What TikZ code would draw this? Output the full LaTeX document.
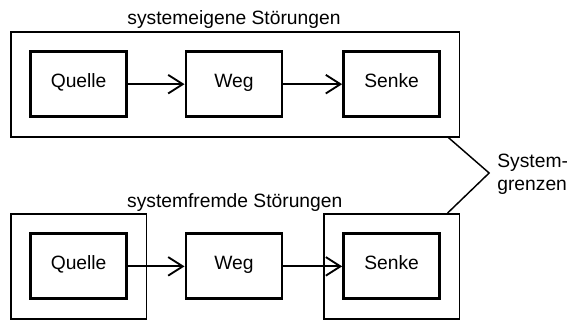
\documentclass[tikz,border=0pt]{standalone}
\usepackage{fontspec}
\newfontfamily\normschrift{Liberation Sans}
\usetikzlibrary{arrows.meta,positioning,calc,fit}
\tikzset{
  >={Straight Barb[length=11pt,width=14pt]},
  % Bloecke
  blk/.style={draw,line width=2.2pt,inner sep=0pt,minimum width=2.54cm,
              minimum height=1.72cm,text height=0.73em,text depth=0.21em,
              font=\normschrift\fontsize{14.5}{17.25}\selectfont},
  hull/.style={draw,line width=1.4pt,inner sep=13.9pt},
  pf/.style={->,line width=1.4pt},
  % Beschriftung
  titel/.style={font=\normschrift\fontsize{14.5}{17.25}\selectfont,inner sep=0pt,anchor=base},
  grenz/.style={draw,line width=1.1pt},
}
\begin{document}
\begin{tikzpicture}
\useasboundingbox (0,0) rectangle (15,8.467);
  % systemeigene Stoerungen
  \node[blk] (quelle1) at (2.08,6.24) {Quelle};
  \node[blk] (weg1) at (6.19,6.24) {Weg};
  \node[blk] (senke1) at (10.36,6.24) {Senke};
  \node[hull,fit=(quelle1)(senke1)] (sys1) {};
  \node[titel] (titel1) at (6.19,7.81) {systemeigene Störungen};
  \draw[pf] (quelle1) -- (weg1);
  \draw[pf] (weg1) -- (senke1);
  % systemfremde Stoerungen
  \node[blk] (quelle2) at (2.08,1.42) {Quelle};
  \node[blk] (weg2) at (6.19,1.42) {Weg};
  \node[blk] (senke2) at (10.36,1.42) {Senke};
  \node[hull,fit=(quelle2)] (sys2) {};
  \node[hull,fit=(senke2)] (sys3) {};
  \node[titel] (titel2) at (6.21,2.97) {systemfremde Störungen};
  \draw[pf] (quelle2) -- (weg2);
  \draw[pf] (weg2) -- (senke2);
  % Systemgrenzen
  \coordinate (spitze) at (12.94,3.89);
  \draw[grenz] ([xshift=-0.32cm]sys1.south east) -- (spitze)
    -- ([xshift=-0.34cm]sys3.north east);
  \node[titel,anchor=west,align=left] (grenzen) at (13.15,3.85) {System-\\grenzen};
\end{tikzpicture}
\end{document}
